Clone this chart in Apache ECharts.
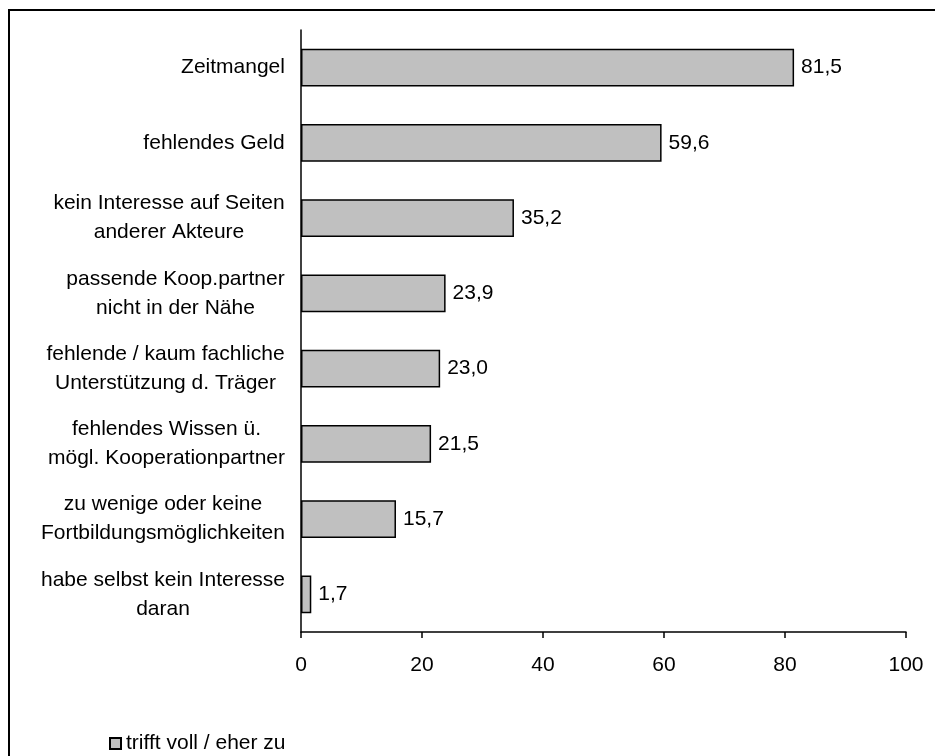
<!DOCTYPE html>
<html>
<head>
<meta charset="utf-8">
<script src="https://cdn.jsdelivr.net/npm/echarts@6/dist/echarts.min.js"></script>
<style>
  html, body { margin: 0; padding: 0; background: #fff; }
  #chart { width: 935px; height: 756px; }
</style>
</head>
<body>
<div id="chart"></div>
<script>
// Reasons that hinder cooperation (share in %), top to bottom
const categories = [
  'Zeitmangel',
  'fehlendes Geld',
  'kein Interesse auf Seiten\nanderer Akteure',
  'passende Koop.partner\nnicht in der Nähe',
  'fehlende / kaum fachliche\nUnterstützung d. Träger',
  'fehlendes Wissen ü.\nmögl. Kooperationpartner',
  'zu wenige oder keine\nFortbildungsmöglichkeiten',
  'habe selbst kein Interesse\ndaran'
];
const values = [81.5, 59.6, 35.2, 23.9, 23.0, 21.5, 15.7, 1.7];
const seriesName = 'trifft voll / eher zu';
const xTicks = [0, 20, 40, 60, 80, 100];

const FONT = 'Liberation Sans, Arial, sans-serif';
const FS = 21;
const LH = 29;

// Measure the widest line of each category label so lines can be centred
// inside a right-aligned block.
const ctx = document.createElement('canvas').getContext('2d');
ctx.font = FS + 'px ' + FONT;
const rich = {};
categories.forEach((c, i) => {
  const w = Math.max(...c.split('\n').map(l => ctx.measureText(l).width));
  rich['c' + i] = { width: Math.ceil(w), align: 'center', fontSize: FS, fontFamily: FONT, color: '#000', lineHeight: LH };
});

const chart = echarts.init(document.getElementById('chart'));
chart.setOption({
  animation: false,
  backgroundColor: '#fff',
  grid: { left: 301, right: 29, top: 30, bottom: 124, containLabel: false },
  graphic: [{
    type: 'rect',
    shape: { x: 9, y: 10, width: 940, height: 760 },
    style: { fill: 'none', stroke: '#000', lineWidth: 2 },
    silent: true,
    z: -1
  }],
  legend: {
    left: 109, top: 733, padding: 0,
    itemWidth: 11, itemHeight: 11, itemGap: 10,
    icon: 'rect',
    textStyle: { fontSize: FS, fontFamily: FONT, color: '#000' },
    data: [seriesName]
  },
  xAxis: {
    type: 'value',
    min: 0, max: 100, interval: 20,
    axisLine: { show: true, lineStyle: { color: '#000', width: 1.5 } },
    axisTick: { show: true, length: 6, lineStyle: { color: '#000', width: 1.5 } },
    splitLine: { show: false },
    axisLabel: {
      margin: 23,
      fontSize: FS, fontFamily: FONT, color: '#000',
      formatter: v => xTicks.includes(v) ? String(v) : ''
    }
  },
  yAxis: {
    type: 'category',
    inverse: true,
    data: categories,
    axisLine: { show: true, lineStyle: { color: '#000', width: 1.5 } },
    axisTick: { show: false },
    axisLabel: {
      margin: 16,
      align: 'right',
      formatter: v => {
        const idx = categories.indexOf(v);
        return v.split('\n').map(l => '{c' + idx + '|' + l + '}').join('\n');
      },
      rich: rich
    }
  },
  series: [{
    name: seriesName,
    type: 'bar',
    data: values,
    barWidth: '50%',
    itemStyle: { color: '#c0c0c0', borderColor: '#000', borderWidth: 1.5 },
    label: {
      show: true,
      position: 'right',
      distance: 7,
      fontSize: FS, fontFamily: FONT, color: '#000',
      formatter: p => p.value.toFixed(1).replace('.', ',')
    }
  }]
});
</script>
</body>
</html>
